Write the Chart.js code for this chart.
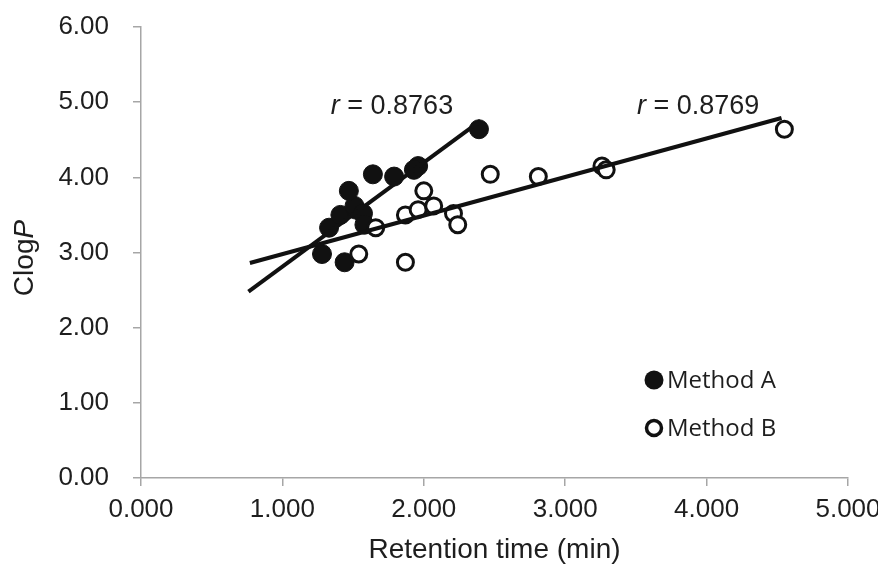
<!DOCTYPE html>
<html>
<head>
<meta charset="utf-8">
<script src="https://cdn.jsdelivr.net/npm/chart.js@4/dist/chart.umd.min.js"></script>
<style>
  html, body { margin: 0; padding: 0; background: #fff; }
  #wrap { width: 878px; height: 565px; }
</style>
</head>
<body>
<div id="wrap"><canvas id="chart" width="878" height="565"></canvas></div>
<script>
// Method A (filled) and Method B (open): retention time vs ClogP
const timeA  = [1.28, 1.44, 1.33, 1.41, 1.52, 1.51, 1.47, 1.57, 1.58, 1.64, 1.79, 1.96, 1.93, 2.39];
const clogpA = [2.98, 2.87, 3.33, 3.50, 3.57, 3.62, 3.82, 3.52, 3.37, 4.04, 4.01, 4.15, 4.10, 4.64];
const timeB  = [1.54, 1.87, 1.66, 1.87, 1.96, 2.07, 2.00, 2.21, 2.24, 2.47, 2.81, 3.26, 3.29, 4.55];
const clogpB = [2.98, 2.87, 3.33, 3.50, 3.57, 3.62, 3.82, 3.52, 3.37, 4.04, 4.01, 4.15, 4.10, 4.64];

// trendline ends
const fitAx = [0.76, 2.40];
const fitAy = [2.48, 4.75];
const fitBx = [0.77, 4.53];
const fitBy = [2.86, 4.79];

const seriesNames = ['Method A', 'Method B'];
const rValues = ['0.8763', '0.8769'];
const xTicks = [0, 1, 2, 3, 4, 5];
const yTicks = [0, 1, 2, 3, 4, 5, 6];

// where the r labels sit (data coords: centre x, baseline y)
const rLabelAt = [[1.775, 4.84], [3.94, 4.84]];

const FONT = '"Liberation Sans", Arial, sans-serif';
const INK = '#1e1e1e';
const AXIS = '#a6a6a6';

function pts(xs, ys) {
  return xs.map((x, i) => ({ x: x, y: ys[i] }));
}

const extras = {
  id: 'extras',
  afterDraw(chart) {
    const ctx = chart.ctx;
    const xs = chart.scales.x, ys = chart.scales.y;
    const area = chart.chartArea;
    ctx.save();
    ctx.fillStyle = INK;
    ctx.textBaseline = 'alphabetic';

    // r = ... labels, italic r
    rValues.forEach((v, i) => {
      const cx = xs.getPixelForValue(rLabelAt[i][0]);
      const by = ys.getPixelForValue(rLabelAt[i][1]);
      ctx.font = 'italic 27px ' + FONT;
      const w1 = ctx.measureText('r').width;
      ctx.font = '27px ' + FONT;
      const rest = ' = ' + v;
      const w2 = ctx.measureText(rest).width;
      let x0 = cx - (w1 + w2) / 2;
      ctx.textAlign = 'left';
      ctx.font = 'italic 27px ' + FONT;
      ctx.fillText('r', x0, by);
      ctx.font = '27px ' + FONT;
      ctx.fillText(rest, x0 + w1, by);
    });

    // x axis title
    ctx.font = '28px ' + FONT;
    ctx.textAlign = 'center';
    ctx.fillText('Retention time (min)', (area.left + area.right) / 2, 558);

    // y axis title: Clog + italic P
    ctx.save();
    ctx.translate(33, 258);
    ctx.rotate(-Math.PI / 2);
    ctx.font = '28px ' + FONT;
    const a = ctx.measureText('Clog').width;
    ctx.font = 'italic 28px ' + FONT;
    const b = ctx.measureText('P').width;
    ctx.textAlign = 'left';
    ctx.font = '28px ' + FONT;
    ctx.fillText('Clog', -(a + b) / 2, 0);
    ctx.font = 'italic 28px ' + FONT;
    ctx.fillText('P', -(a + b) / 2 + a, 0);
    ctx.restore();

    // legend
    const lx = 654, lys = [380, 428];
    ctx.font = '24px "Open Sans", ' + FONT;
    ctx.textAlign = 'left';
    ctx.textBaseline = 'middle';
    seriesNames.forEach((name, i) => {
      ctx.beginPath();
      if (i === 0) {
        ctx.arc(lx, lys[i], 9.5, 0, Math.PI * 2);
        ctx.fillStyle = '#111';
        ctx.fill();
      } else {
        ctx.arc(lx, lys[i], 7.5, 0, Math.PI * 2);
        ctx.fillStyle = '#fff';
        ctx.fill();
        ctx.lineWidth = 3.5;
        ctx.strokeStyle = '#111';
        ctx.stroke();
      }
      ctx.fillStyle = INK;
      ctx.fillText(name, lx + 13, lys[i] + 1);
    });
    ctx.restore();
  }
};

new Chart(document.getElementById('chart'), {
  type: 'scatter',
  data: {
    datasets: [
      {
        type: 'line',
        data: pts(fitAx, fitAy),
        borderColor: '#111',
        borderWidth: 4,
        pointRadius: 0,
        fill: false,
        order: 0
      },
      {
        type: 'line',
        data: pts(fitBx, fitBy),
        borderColor: '#111',
        borderWidth: 4,
        pointRadius: 0,
        fill: false,
        order: 0
      },
      {
        label: seriesNames[1],
        data: pts(timeB, clogpB),
        backgroundColor: '#fff',
        borderColor: '#111',
        borderWidth: 3,
        pointRadius: 8,
        order: 1
      },
      {
        label: seriesNames[0],
        data: pts(timeA, clogpA),
        backgroundColor: '#111',
        borderColor: '#111',
        borderWidth: 1,
        pointRadius: 9.5,
        order: 2
      }
    ]
  },
  options: {
    responsive: false,
    animation: false,
    events: [],
    layout: { padding: { top: 27, right: 30, left: 0, bottom: 0 } },
    plugins: {
      legend: { display: false },
      tooltip: { enabled: false }
    },
    scales: {
      x: {
        type: 'linear',
        min: 0,
        max: 5,
        afterBuildTicks: s => { s.ticks = xTicks.map(v => ({ value: v })); },
        ticks: {
          callback: v => Number(v).toFixed(3),
          font: { size: 26, family: FONT },
          color: INK,
          padding: 8,
          maxRotation: 0
        },
        grid: { drawOnChartArea: false, tickLength: 8, color: AXIS, lineWidth: 1.5 },
        border: { color: AXIS, width: 1.5 },
        afterFit: s => { s.height = 87; s.paddingLeft = 0; s.paddingRight = 0; }
      },
      y: {
        type: 'linear',
        min: 0,
        max: 6,
        afterBuildTicks: s => { s.ticks = yTicks.map(v => ({ value: v })); },
        ticks: {
          callback: v => Number(v).toFixed(2),
          font: { size: 26, family: FONT },
          color: INK,
          padding: 24
        },
        grid: { drawOnChartArea: false, tickLength: 8, color: AXIS, lineWidth: 1.5 },
        border: { color: AXIS, width: 1.5 },
        afterFit: s => { s.width = 141; s.paddingTop = 0; s.paddingBottom = 0; }
      }
    }
  },
  plugins: [extras]
});
</script>
</body>
</html>
